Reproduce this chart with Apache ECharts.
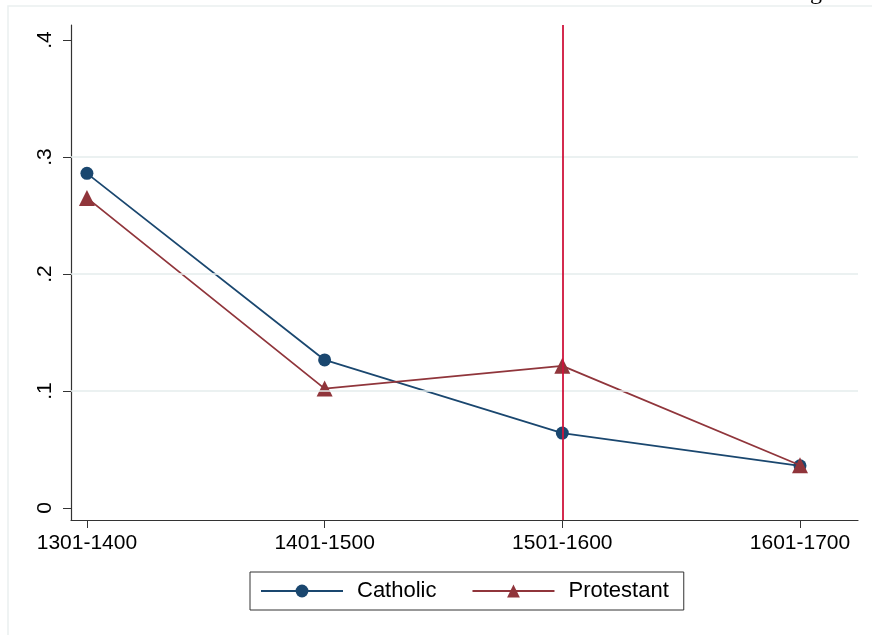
<!DOCTYPE html>
<html lang="en">
<head>
    <meta charset="UTF-8">
    <title>Catholic vs Protestant</title>
    <style>
        html, body { margin: 0; padding: 0; background: #fff; }
        #chart { width: 872px; height: 635px; }
    </style>
</head>
<body>
    <div id='chart'></div>
    <script src="https://cdn.jsdelivr.net/npm/echarts@6/dist/echarts.min.js"></script>
    <script>
        const periods = ['1301-1400', '1401-1500', '1501-1600', '1601-1700']
        const catholic = [0.286, 0.1265, 0.064, 0.036]
        const protestant = [0.265, 0.102, 0.1215, 0.0365]
        const yTicks = [0, 0.1, 0.2, 0.3, 0.4]
        const gridValues = [0.1, 0.2, 0.3]
        const markedPeriod = 2

        const font = '"Liberation Sans", Arial, sans-serif'
        const toPairs = arr => arr.map((v, i) => [i, v])

        const myChart = echarts.init(document.querySelector('#chart'))
        const option = {
            animation: false,
            grid: { left: 71, right: 14, top: 25, bottom: 115 },
            graphic: [
                {
                    type: 'rect',
                    shape: { x: 8, y: 6, width: 900, height: 700 },
                    style: { fill: 'none', stroke: '#eaf0f0', lineWidth: 1.5 },
                    silent: true
                },
                {
                    type: 'text',
                    x: 810, y: -19,
                    style: { text: 'g', font: '24px "Liberation Serif", serif', fill: '#000' },
                    silent: true
                }
            ],
            xAxis: {
                type: 'value',
                min: -0.067,
                max: 3.244,
                splitLine: { show: false },
                axisLine: { onZero: false, lineStyle: { color: '#333', width: 1.2 } },
                axisTick: { customValues: [0, 1, 2, 3], length: 8, lineStyle: { color: '#333' } },
                axisLabel: {
                    customValues: [0, 1, 2, 3],
                    formatter: v => periods[Math.round(v)],
                    color: '#000', fontSize: 21, fontFamily: font, margin: 13
                }
            },
            yAxis: {
                type: 'value',
                min: -0.0103,
                max: 0.4128,
                splitLine: { show: false },
                axisLine: { show: true, onZero: false, lineStyle: { color: '#333', width: 1.2 } },
                axisTick: { show: true, customValues: yTicks, length: 8, lineStyle: { color: '#333' } },
                axisLabel: {
                    customValues: yTicks,
                    formatter: v => v === 0 ? '0' : String(+v.toFixed(1)).replace(/^0/, ''),
                    rotate: 90,
                    color: '#000', fontSize: 21, fontFamily: font, margin: 15
                }
            },
            legend: {
                left: 250, top: 572,
                padding: [8, 15, 8, 10],
                itemGap: 35,
                itemWidth: 82,
                itemHeight: 16,
                borderColor: '#333',
                borderWidth: 1,
                textStyle: { color: '#000', fontSize: 22, fontFamily: font, padding: [0, 0, 0, 9] },
                data: ['Catholic', 'Protestant']
            },
            series: [
                {
                    name: 'grid',
                    type: 'line',
                    data: [],
                    silent: true,
                    markLine: {
                        silent: true,
                        symbol: 'none',
                        label: { show: false },
                        lineStyle: { color: '#e4eded', type: 'solid', width: 1.5 },
                        data: gridValues.map(v => ({ yAxis: v }))
                    }
                },
                {
                    name: 'Catholic',
                    type: 'line',
                    data: toPairs(catholic),
                    symbol: 'circle',
                    symbolSize: 13,
                    itemStyle: { color: '#1a476f' },
                    lineStyle: { color: '#1a476f', width: 1.8 },
                    z: 3
                },
                {
                    name: 'Protestant',
                    type: 'line',
                    data: toPairs(protestant),
                    symbol: 'triangle',
                    symbolSize: 16,
                    itemStyle: { color: '#90353b' },
                    lineStyle: { color: '#90353b', width: 1.8 },
                    z: 4,
                    markLine: {
                        silent: true,
                        symbol: 'none',
                        label: { show: false },
                        lineStyle: { color: '#d0143c', type: 'solid', width: 1.8 },
                        data: [{ xAxis: markedPeriod }]
                    }
                }
            ]
        }
        myChart.setOption(option)
    </script>
</body>
</html>
